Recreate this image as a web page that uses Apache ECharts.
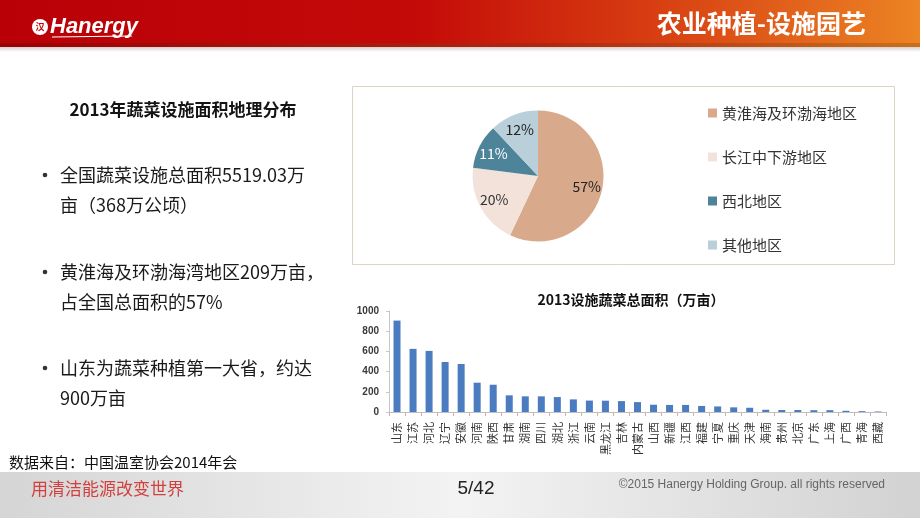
<!DOCTYPE html>
<html><head><meta charset="utf-8">
<script src="https://cdn.jsdelivr.net/npm/echarts@6/dist/echarts.min.js"></script>
<style>html,body{margin:0;padding:0;background:#fff}#c{width:920px;height:518px}</style>
</head><body><div id="c"></div>
<script>
const provinces = ['山东','江苏','河北','辽宁','安徽','河南','陕西','甘肃','湖南','四川','湖北','浙江','云南','黑龙江','吉林','内蒙古','山西','新疆','江西','福建','宁夏','重庆','天津','海南','贵州','北京','广东','上海','广西','青海','西藏'];
const areaValues = [905,625,605,495,475,290,270,165,155,155,148,125,113,112,108,98,72,70,70,60,55,46,42,22,20,20,18,18,12,8,5];
const regionNames = ['黄淮海及环渤海地区','长江中下游地区','西北地区','其他地区'];
const regionShares = [57,20,11,12];
const regionColors = ['#d8aa8b','#f2e2da','#4e8499','#b9cfda'];
const regionLabelColors = ['#222','#333','#ffffff','#222'];
const yMin = 0, yMax = 1000, yStep = 200;

const FONT = '"Noto Sans CJK SC","Microsoft YaHei",sans-serif';
const chart = echarts.init(document.getElementById('c'), null, {renderer:'canvas'});

function txt(x,y,text,size,opts){
  return Object.assign({type:'text',x:x,y:y,style:Object.assign({text:text,font:(opts&&opts.weight||'normal')+' '+size+'px '+FONT,fill:'#111',textVerticalAlign:'middle',textAlign:'left'},opts&&opts.style||{})},opts&&opts.extra||{});
}
function bullet(y){ return {type:'circle',shape:{cx:45,cy:y,r:2.3},style:{fill:'#333'}}; }

const pieData = regionNames.map((n,i)=>({name:n,value:regionShares[i],itemStyle:{color:regionColors[i]},label:{color:regionLabelColors[i]}}));
const pieLabelData = regionNames.map((n,i)=>({name:n,value:regionShares[i],label:{color:regionLabelColors[i]}}));

const option = {
  animation:false,
  backgroundColor:'#ffffff',
  graphic:[
    {type:'rect',shape:{x:0,y:0,width:920,height:44},style:{fill:new echarts.graphic.LinearGradient(0,0,1,0,[{offset:0,color:'#b90007'},{offset:0.45,color:'#c40a08'},{offset:0.72,color:'#d84012'},{offset:1,color:'#ec8424'}])},z:0},
    {type:'rect',shape:{x:0,y:43,width:920,height:4},style:{fill:new echarts.graphic.LinearGradient(0,0,1,0,[{offset:0,color:'#9a0005'},{offset:0.6,color:'#b02810'},{offset:1,color:'#c8701e'}])},z:0},
    {type:'rect',shape:{x:0,y:47,width:920,height:5},style:{fill:new echarts.graphic.LinearGradient(0,0,0,1,[{offset:0,color:'#d8d0cc'},{offset:1,color:'#ffffff'}])},z:0},
    {type:'circle',shape:{cx:40,cy:27,r:8},style:{fill:'#fff'},z:2},
    txt(40,27,'汉',9,{weight:'bold',style:{fill:'#c00',textAlign:'center'},extra:{z:3}}),
    {type:'text',x:50,y:27,style:{text:'Hanergy',font:'italic bold 22px "Liberation Sans",Arial,sans-serif',fill:'#fff',textVerticalAlign:'middle'},z:2},
    {type:'line',shape:{x1:52,y1:37,x2:132,y2:36},style:{stroke:'#fff',lineWidth:1.2},z:2},
    txt(866,23,'农业种植-设施园艺',25,{weight:'bold',style:{fill:'#fff',textAlign:'right'},extra:{z:2}}),
    txt(183,110,'2013年蔬菜设施面积地理分布',17,{weight:'bold',style:{textAlign:'center',fill:'#141414'}}),
    bullet(175),
    txt(60,175,'全国蔬菜设施总面积5519.03万',18,{style:{fill:'#1a1a1a'}}),
    txt(60,205,'亩（368万公顷）',18,{style:{fill:'#1a1a1a'}}),
    bullet(272),
    txt(60,272,'黄淮海及环渤海湾地区209万亩，',18,{style:{fill:'#1a1a1a'}}),
    txt(60,302,'占全国总面积的57%',18,{style:{fill:'#1a1a1a'}}),
    bullet(368),
    txt(60,368,'山东为蔬菜种植第一大省，约达',18,{style:{fill:'#1a1a1a'}}),
    txt(60,398,'900万亩',18,{style:{fill:'#1a1a1a'}}),
    txt(9,462,'数据来自：中国温室协会2014年会',15,{style:{fill:'#111'}}),
    {type:'rect',shape:{x:352.5,y:86.5,width:542,height:178},style:{fill:'none',stroke:'#ddd3c6',lineWidth:1},z:0},
    txt(631,300,'2013设施蔬菜总面积（万亩）',14,{weight:'bold',style:{textAlign:'center',fill:'#111'}}),
    {type:'rect',shape:{x:0,y:472,width:920,height:46},style:{fill:new echarts.graphic.LinearGradient(0,0,1,0,[{offset:0,color:'#d5d5d5'},{offset:0.5,color:'#f3f3f3'},{offset:1,color:'#d2d2d2'}])},z:0},
    txt(31,489,'用清洁能源改变世界',17,{style:{fill:'#d24040'}}),
    {type:'text',x:476,y:489,style:{text:'5/42',font:'normal 19px "Liberation Sans Narrow","Liberation Sans",Arial,sans-serif',fill:'#222',textAlign:'center',textVerticalAlign:'middle'}},
    {type:'text',x:885,y:485,style:{text:'©2015 Hanergy Holding Group. all rights reserved',font:'normal 12px "Liberation Sans",Arial,sans-serif',fill:'#666',textAlign:'right',textVerticalAlign:'middle'}}
  ],
  legend:{
    orient:'vertical',left:703,top:98,itemWidth:9,itemHeight:9,icon:'rect',itemGap:24,
    data:regionNames,
    textStyle:{fontSize:15,fontFamily:FONT,color:'#333',lineHeight:20},
    selectedMode:false
  },
  grid:{left:389,top:311,width:497,height:101,containLabel:false},
  xAxis:{
    type:'category',data:provinces,
    axisLine:{lineStyle:{color:'#bfbfbf'}},
    axisTick:{show:true,length:4,lineStyle:{color:'#c8b4b4'}},
    axisLabel:{rotate:90,fontSize:11,fontFamily:FONT,color:'#333',margin:10,interval:0}
  },
  yAxis:{
    type:'value',min:yMin,max:yMax,interval:yStep,
    axisLine:{show:true,lineStyle:{color:'#c8c8c8'}},
    axisTick:{show:true,length:3,lineStyle:{color:'#c8c8c8'}},
    splitLine:{show:false},
    axisLabel:{fontSize:10,fontWeight:'bold',color:'#3a3a3a',margin:10,fontFamily:'"Liberation Sans",Arial,sans-serif',formatter:(v)=>String(v)}
  },
  series:[
    {type:'bar',data:areaValues,barWidth:7,itemStyle:{color:'#4a7cbf'},silent:true},
    {type:'pie',center:[538,176],radius:[0,65.5],startAngle:90,clockwise:true,data:pieData,
      label:{show:false},labelLine:{show:false},silent:true,
      itemStyle:{borderColor:'#fff',borderWidth:0}},
    {type:'pie',center:[538,176],radius:[0,94],startAngle:90,clockwise:true,data:pieLabelData,
      itemStyle:{color:'rgba(0,0,0,0)'},labelLine:{show:false},silent:true,
      label:{show:true,position:'inside',formatter:'{c}%',fontSize:14,fontFamily:FONT}}
  ]
};
chart.setOption(option);
</script></body></html>
